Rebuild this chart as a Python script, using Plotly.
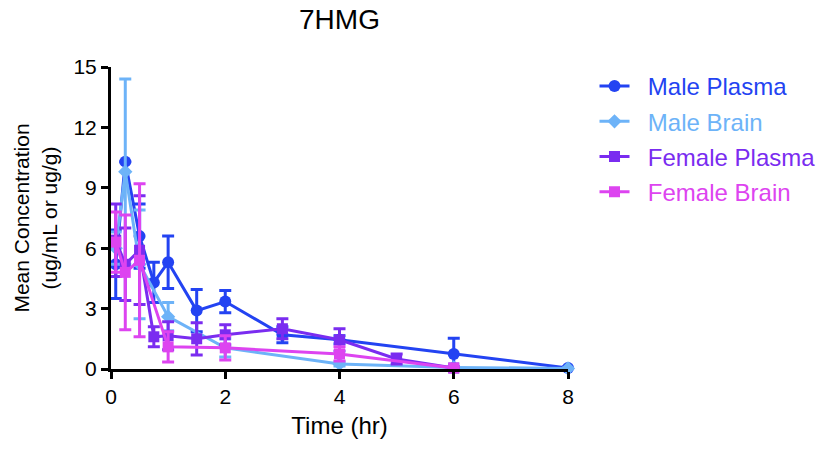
import plotly.graph_objects as go

# ---- data ----
mp_time = [0.083, 0.25, 0.5, 0.75, 1, 1.5, 2, 3, 4, 6, 8]
mp_mean = [5.2, 10.3, 6.6, 4.3, 5.3, 2.9, 3.35, 1.7, 1.45, 0.75, 0.05]
mp_err = [1.7, 0.0, 1.6, 1.0, 1.3, 1.05, 0.55, 0.4, 0.2, 0.78, 0.05]

mb_time = [0.083, 0.25, 0.5, 1, 2, 4, 6, 8]
mb_mean = [6.0, 9.8, 5.2, 2.6, 1.05, 0.25, 0.08, 0.03]
mb_err = [0.8, 4.6, 2.7, 0.7, 0.45, 0.1, 0.05, 0.02]

fp_time = [0.083, 0.25, 0.5, 0.75, 1, 1.5, 2, 3, 4, 5, 6]
fp_mean = [6.4, 5.2, 5.9, 1.6, 1.65, 1.5, 1.7, 2.0, 1.45, 0.5, 0.05]
fp_err = [1.8, 1.8, 2.7, 0.5, 0.7, 0.8, 0.5, 0.5, 0.55, 0.25, 0.05]

fb_time = [0.083, 0.25, 0.5, 1, 2, 4, 6]
fb_mean = [6.3, 4.8, 5.4, 1.1, 1.05, 0.75, 0.05]
fb_err = [1.5, 2.85, 3.8, 0.75, 0.6, 0.35, 0.05]

series_names = ["Male Plasma", "Male Brain", "Female Plasma", "Female Brain"]
colors = ["#2343F2", "#6DB3F8", "#7A2CF0", "#DD44F0"]
symbols = ["circle", "diamond", "square", "square"]
sizes = [12, 11, 11, 11]

x_ticks = [0, 2, 4, 6, 8]
y_ticks = [0, 3, 6, 9, 12, 15]

FONT = "Liberation Sans, Arial, Helvetica, sans-serif"

fig = go.Figure()
datasets = [
    (mp_time, mp_mean, mp_err),
    (mb_time, mb_mean, mb_err),
    (fp_time, fp_mean, fp_err),
    (fb_time, fb_mean, fb_err),
]
for i, ((t, m, e), name, c, s, sz) in enumerate(zip(datasets, series_names, colors, symbols, sizes)):
    fig.add_trace(go.Scatter(
        x=t, y=m, mode="lines+markers",
        name=f"<span style='color:{c}'>&nbsp;&nbsp;{name}</span>",
        legendgroup=f"g{i}",
        line=dict(color=c, width=3),
        marker=dict(color=c, symbol=s, size=sz),
        error_y=dict(type="data", array=e, visible=True, color=c, thickness=3, width=6),
        cliponaxis=False,
    ))

fig.update_layout(
    width=819, height=449,
    margin=dict(l=111, r=251, t=67, b=80, autoexpand=False),
    paper_bgcolor="white", plot_bgcolor="white",
    font=dict(family=FONT, color="black", size=21),
    title=dict(text="7HMG", x=0.5, xref="paper", xanchor="center", y=0.980, yanchor="top",
               font=dict(size=28, family=FONT)),
    xaxis=dict(range=[0, 8], tickvals=x_ticks, showline=True, linecolor="black", linewidth=3,
               ticks="outside", ticklen=7, tickwidth=3, tickcolor="black", showgrid=False,
               zeroline=False, tickfont=dict(size=21), automargin=False,
               title=dict(text="Time (hr)", font=dict(size=24), standoff=10)),
    yaxis=dict(range=[0, 15], tickvals=y_ticks, showline=True, linecolor="black", linewidth=3,
               ticks="outside", ticklen=7, tickwidth=3, tickcolor="black", showgrid=False,
               zeroline=False, tickfont=dict(size=21), automargin=False,
               title=dict(text="Mean Concentration<br>(ug/mL or ug/g)", font=dict(size=21), standoff=11)),
    legend=dict(x=1.058, y=1.01, xanchor="left", yanchor="top", font=dict(size=24),
                itemwidth=30, traceorder="grouped", tracegroupgap=1, bgcolor="rgba(0,0,0,0)"),
    showlegend=True,
)

fig.write_html(
    "out.html",
    config={"displayModeBar": False},
    post_script="document.body.style.margin='0';document.body.style.overflow='hidden';",
)
